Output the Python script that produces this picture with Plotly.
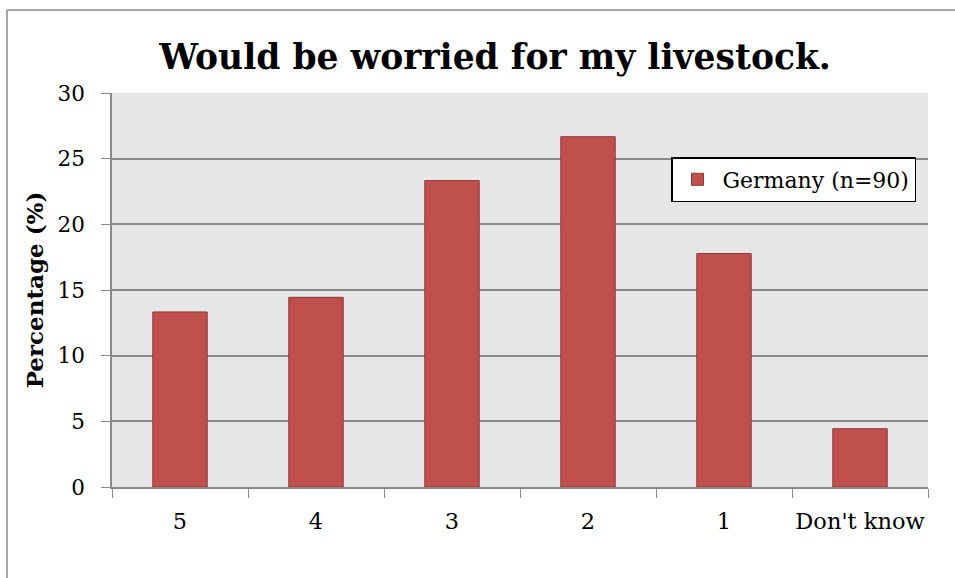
import plotly.graph_objects as go

categories = ["5", "4", "3", "2", "1", "Don't know"]
germany = [13.33, 14.44, 23.33, 26.67, 17.78, 4.44]
series_name = "Germany (n=90)"
title_text = "Would be worried for my livestock."
y_title = "Percentage (%)"
y_ticks = [0, 5, 10, 15, 20, 25, 30]

W, H = 955, 578
L, R, T, B = 112, 27, 93, 91
pw, ph = W - L - R, H - T - B

def px_x(x):
    return (x - L) / pw

def px_y(y):
    return (H - B - y) / ph

font_family = "DejaVu Serif"

fig = go.Figure()
fig.add_trace(go.Bar(
    x=categories, y=germany, name=series_name,
    marker=dict(color="#C0504D", line=dict(color="#8C3836", width=1)),
    showlegend=True,
))

fig.update_layout(
    width=W, height=H,
    margin=dict(l=L, r=R, t=T, b=B, autoexpand=False),
    paper_bgcolor="white",
    plot_bgcolor="#E6E6E6",
    bargap=0.6,
    font=dict(family=font_family, size=22, color="black"),
    title=dict(text="<b>" + title_text + "</b>", x=495 / W, xanchor="center",
               y=1 - 57 / H, yanchor="middle",
               font=dict(family=font_family, size=34.5, color="black")),
    showlegend=True,
    legend=dict(x=px_x(671), y=px_y(157), xanchor="left", yanchor="top",
                bgcolor="white", bordercolor="black", borderwidth=1.5,
                font=dict(family=font_family, size=22, color="black"),
                itemwidth=40),
    xaxis=dict(type="category", tickson="boundaries", ticks="outside",
               ticklen=9, tickcolor="#888888", showline=True,
               linecolor="#888888", linewidth=1.5, showgrid=False,
               ticklabelstandoff=13, tickangle=0, automargin=False,
               tickfont=dict(size=22.5)),
    yaxis=dict(range=[0, 30], tickvals=y_ticks, ticks="outside", ticklen=9,
               tickcolor="#888888", showline=True, linecolor="#888888",
               linewidth=1.5, gridcolor="#888888", gridwidth=1.5,
               zeroline=False, ticklabelstandoff=12, tickfont=dict(size=21.5),
               automargin=False,
               title=dict(text="<b>" + y_title + "</b>", standoff=8,
                          font=dict(size=23))),
    shapes=[
        dict(type="line", xref="paper", yref="paper",
             x0=px_x(7), y0=px_y(10), x1=px_x(W + 5), y1=px_y(10),
             line=dict(color="#888888", width=1.5)),
        dict(type="line", xref="paper", yref="paper",
             x0=px_x(7), y0=px_y(10), x1=px_x(7), y1=px_y(H + 5),
             line=dict(color="#888888", width=1.5)),
    ],
)

fig.write_html("out.html", config={"displayModeBar": False},
               post_script="document.body.style.margin='0px';document.body.style.overflow='hidden';")
